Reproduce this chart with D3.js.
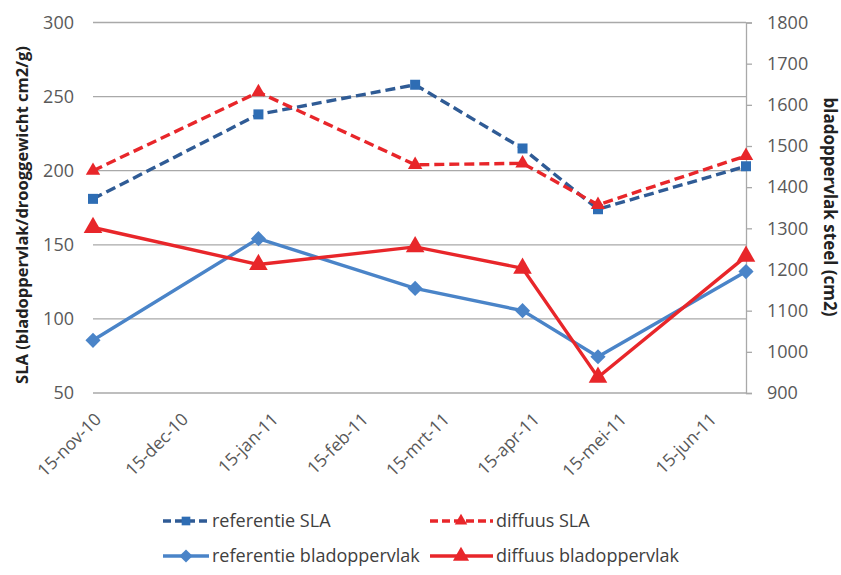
<!DOCTYPE html>
<html>
<head>
<meta charset="utf-8">
<script src="https://cdn.jsdelivr.net/npm/d3@7"></script>
<style>
  body { margin: 0; background: #fff; }
  text { font-family: "Open Sans", "Noto Sans", sans-serif; }
</style>
</head>
<body>
<div id="target"></div>
<script>
const dates = ["2010-11-15", "2011-01-11", "2011-03-06", "2011-04-12", "2011-05-08", "2011-06-28"];
const refSLA = [181, 238, 258, 215, 174, 203];
const difSLA = [200, 253, 204, 205, 177, 210];
const refBlad = [1028, 1275, 1154, 1100, 988, 1195];
const difBlad = [1302, 1212, 1255, 1203, 938, 1232];

const tickDates = ["2010-11-15", "2010-12-15", "2011-01-15", "2011-02-15", "2011-03-15", "2011-04-15", "2011-05-15", "2011-06-15"];
const tickLabels = ["15-nov-10", "15-dec-10", "15-jan-11", "15-feb-11", "15-mrt-11", "15-apr-11", "15-mei-11", "15-jun-11"];
const leftTicks = [50, 100, 150, 200, 250, 300];
const rightTicks = [900, 1000, 1100, 1200, 1300, 1400, 1500, 1600, 1700, 1800];

function drawChart() {
  const width = 841,
    height = 575,
    left = 93,
    right = 746,
    top = 22.5,
    bottom = 393;

  const parse = d3.timeParse("%Y-%m-%d");

  const x = d3.scaleTime()
    .domain([parse(dates[0]), parse(dates[dates.length - 1])])
    .range([left, right]);

  const yL = d3.scaleLinear().domain([50, 300]).range([bottom, top]);
  const yR = d3.scaleLinear().domain([900, 1800]).range([bottom, top]);

  const svg = d3.select("#target")
    .append("svg")
    .attr("width", width)
    .attr("height", height);

  // gridlines
  svg.append("g")
    .selectAll("line")
    .data(leftTicks)
    .enter()
    .append("line")
    .attr("x1", left)
    .attr("x2", right)
    .attr("y1", (d) => yL(d))
    .attr("y2", (d) => yL(d))
    .style("stroke", "#a9a9a9")
    .style("stroke-width", 1.3);

  // left tick labels
  svg.append("g")
    .selectAll("text")
    .data(leftTicks)
    .enter()
    .append("text")
    .attr("x", left - 19)
    .attr("y", (d) => yL(d))
    .attr("dy", "0.35em")
    .attr("text-anchor", "end")
    .style("font-size", "18px")
    .style("fill", "#595959")
    .text((d) => d);

  // right axis
  const axR = svg.append("g")
    .attr("transform", `translate(${right},0)`)
    .call(d3.axisRight(yR).tickValues(rightTicks).tickFormat(d3.format("d")).tickSize(6).tickPadding(15));
  axR.select(".domain").style("stroke", "#a9a9a9").style("stroke-width", 1.3);
  axR.selectAll(".tick line").style("stroke", "#a9a9a9").style("stroke-width", 1.3);
  axR.selectAll(".tick text")
    .style("font-size", "18px")
    .style("fill", "#595959")
    .style("font-family", "'Open Sans', sans-serif");

  // x labels
  svg.append("g")
    .selectAll("text")
    .data(tickDates)
    .enter()
    .append("text")
    .attr("transform", (d) => `translate(${x(parse(d)) + 5},${bottom + 23}) rotate(-45)`)
    .attr("text-anchor", "end")
    .attr("dy", "0.35em")
    .style("font-size", "17.5px")
    .style("fill", "#595959")
    .text((d, i) => tickLabels[i]);

  // axis titles
  svg.append("text")
    .attr("transform", `translate(28,215) rotate(-90)`)
    .attr("text-anchor", "middle")
    .style("font-size", "16.5px")
    .style("font-weight", "bold")
    .style("fill", "#222")
    .text("SLA (bladoppervlak/drooggewicht cm2/g)");

  svg.append("text")
    .attr("transform", `translate(824,207) rotate(90)`)
    .attr("text-anchor", "middle")
    .style("font-size", "17px")
    .style("font-weight", "bold")
    .style("fill", "#222")
    .text("bladoppervlak steel (cm2)");

  const series = [
    { name: "referentie SLA", values: refSLA, y: yL, color: "#2f5b95", marker: "#2e6db4", dash: "10,5", symbol: d3.symbolSquare, size: 100, rot: 0 },
    { name: "diffuus SLA", values: difSLA, y: yL, color: "#e8262a", marker: "#e8262a", dash: "10,5", symbol: d3.symbolTriangle, size: 90, rot: 0 },
    { name: "referentie bladoppervlak", values: refBlad, y: yR, color: "#4a84c8", marker: "#4a84c8", dash: null, symbol: d3.symbolSquare, size: 115, rot: 45 },
    { name: "diffuus bladoppervlak", values: difBlad, y: yR, color: "#e8262a", marker: "#e8262a", dash: null, symbol: d3.symbolTriangle, size: 150, rot: 0 }
  ];

  const line = (s) => d3.line()
    .x((d, i) => x(parse(dates[i])))
    .y((d) => s.y(d));

  series.forEach((s) => {
    svg.append("path")
      .datum(s.values)
      .attr("d", line(s))
      .style("fill", "none")
      .style("stroke", s.color)
      .style("stroke-width", 3.4)
      .style("stroke-dasharray", s.dash);

    svg.append("g")
      .selectAll("path")
      .data(s.values)
      .enter()
      .append("path")
      .attr("transform", (d, i) => `translate(${x(parse(dates[i]))},${s.y(d)}) rotate(${s.rot})`)
      .attr("d", d3.symbol().type(s.symbol).size(s.size))
      .style("fill", s.marker);
  });

  // legend
  const legendPos = [[163, 521], [430, 521], [163, 556], [430, 556]];
  const legend = svg.append("g")
    .selectAll("g")
    .data(series)
    .enter()
    .append("g")
    .attr("transform", (d, i) => `translate(${legendPos[i][0]},${legendPos[i][1]})`);

  legend.append("line")
    .attr("x1", 0)
    .attr("x2", (d, i) => i % 2 ? 63 : 46)
    .style("stroke", (d) => d.color)
    .style("stroke-width", 3.4)
    .style("stroke-dasharray", (d) => d.dash ? "8,4" : null);

  legend.append("path")
    .attr("transform", (d, i) => `translate(${i % 2 ? 31 : 23},0) rotate(${d.rot})`)
    .attr("d", (d) => d3.symbol().type(d.symbol).size(d.size * 0.75)())
    .style("fill", (d) => d.marker);

  legend.append("text")
    .attr("x", (d, i) => i % 2 ? 66 : 49)
    .attr("dy", "0.35em")
    .style("font-size", "18px")
    .style("fill", "#404040")
    .text((d) => d.name);
}

drawChart();
</script>
</body>
</html>
